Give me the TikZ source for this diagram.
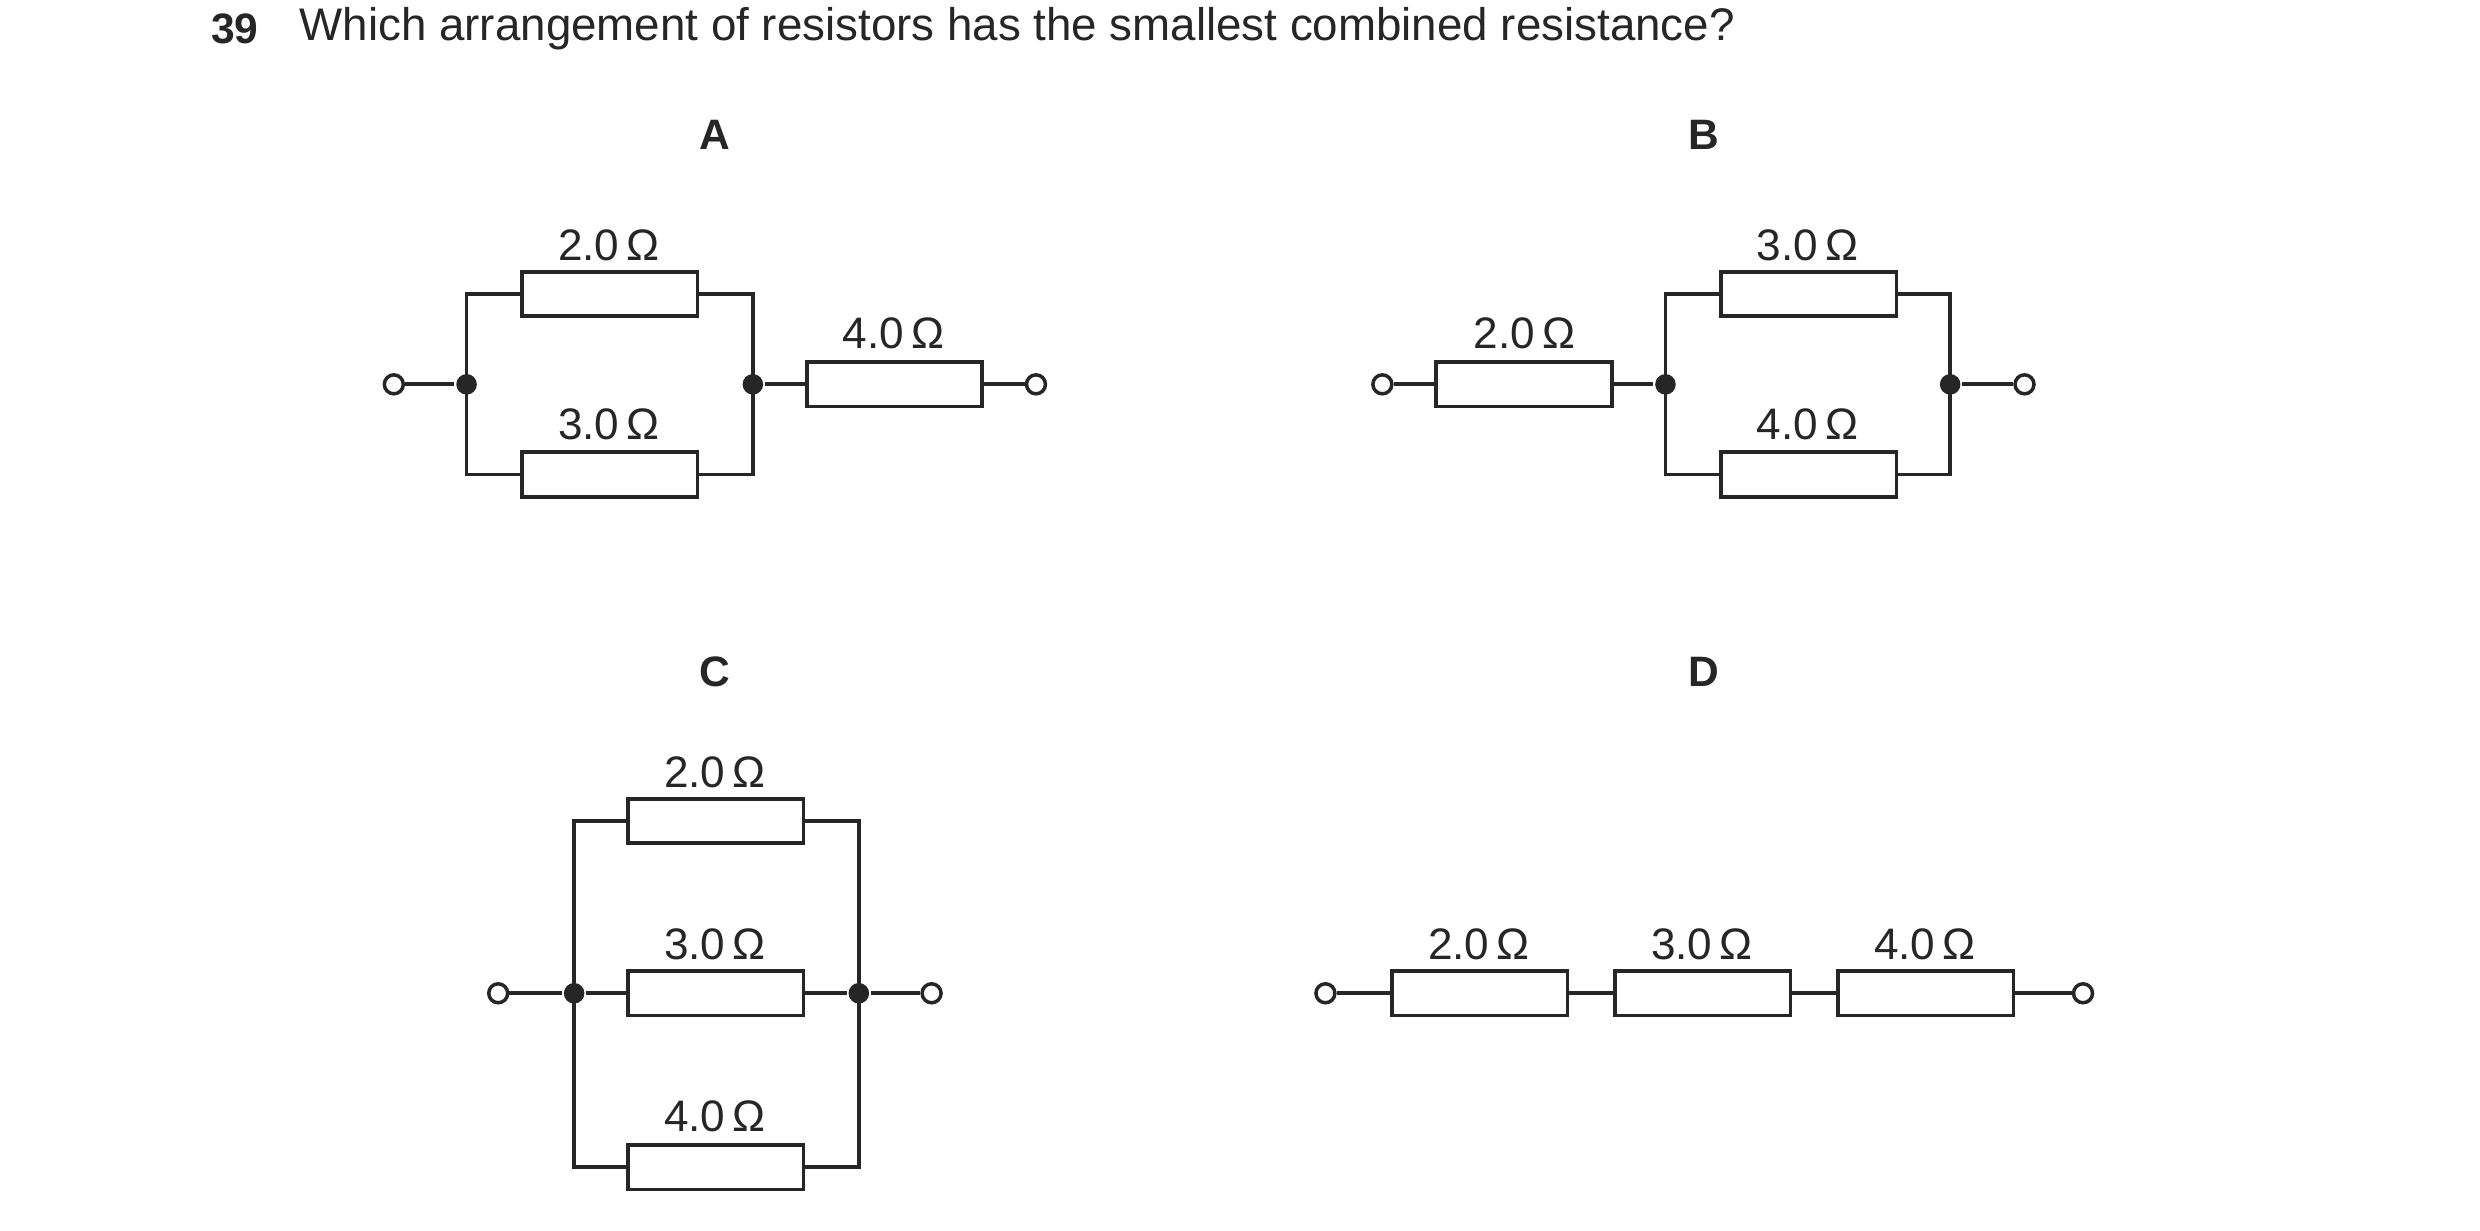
\documentclass[tikz,border=0pt]{standalone}
\usepackage{fontspec}
\setmainfont{Liberation Sans}
\begin{document}
\begin{tikzpicture}[x=1bp,y=-1bp,line width=2.4bp,
  res/.style={draw,rectangle,minimum width=111bp,minimum height=28bp,inner sep=0pt,line width=2.4bp},
  term/.style={draw,circle,fill=white,minimum size=12bp,inner sep=0pt,line width=2.2bp},
  dot/.style={circle,fill=black!85,minimum size=13bp,inner sep=0pt},
  lab/.style={font=\fontsize{28}{30}\selectfont,text=black!85},
  head/.style={font=\fontsize{27}{29}\selectfont\bfseries,text=black!85},
  color=black!85]
\useasboundingbox (0,0) rectangle (1568,778);
\node[head,anchor=west] (q) at (129,18) {39};
\node[font=\fontsize{29}{31}\selectfont,anchor=west,text=black!85] (qt) at (185,18) {Which arrangement of resistors has the smallest combined resistance?};
% A
\node[head] (hA) at (452,85) {A};
\node[term] (a1) at (249,243) {};
\node[dot] (aj1) at (295,243) {};
\node[dot] (aj2) at (476,243) {};
\node[res] (ar1) at (385.5,186) {};
\node[res] (ar2) at (385.5,300) {};
\node[res] (ar3) at (565.5,243) {};
\node[term] (a2) at (655,243) {};
\node[lab] (la1) at (385,155) {2.0\,Ω};
\node[lab] (la2) at (385,268) {3.0\,Ω};
\node[lab] (la3) at (565,211) {4.0\,Ω};
\draw (a1) -- (aj1);
\draw (ar1.west) -| (aj1.center) |- (ar2.west);
\draw (ar1.east) -| (aj2.center) |- (ar2.east);
\draw (aj2) -- (ar3.west); \draw (ar3.east) -- (a2);
% B
\node[head] (hB) at (1077,85) {B};
\node[term] (b1) at (874,243) {};
\node[res] (br1) at (963.5,243) {};
\node[dot] (bj1) at (1053,243) {};
\node[dot] (bj2) at (1233,243) {};
\node[res] (br2) at (1143.5,186) {};
\node[res] (br3) at (1143.5,300) {};
\node[term] (b2) at (1280,243) {};
\node[lab] (lb1) at (964,211) {2.0\,Ω};
\node[lab] (lb2) at (1143,155) {3.0\,Ω};
\node[lab] (lb3) at (1143,268) {4.0\,Ω};
\draw (b1) -- (br1.west); \draw (br1.east) -- (bj1);
\draw (br2.west) -| (bj1.center) |- (br3.west);
\draw (br2.east) -| (bj2.center) |- (br3.east);
\draw (bj2) -- (b2);
% C
\node[head] (hC) at (452,425) {C};
\node[term] (c1) at (315,628) {};
\node[dot] (cj1) at (363,628) {};
\node[dot] (cj2) at (543,628) {};
\node[term] (c2) at (589,628) {};
\node[res] (cr1) at (452.5,519) {};
\node[res] (cr2) at (452.5,628) {};
\node[res] (cr3) at (452.5,738) {};
\node[lab] (lc1) at (452,488) {2.0\,Ω};
\node[lab] (lc2) at (452,597) {3.0\,Ω};
\node[lab] (lc3) at (452,706) {4.0\,Ω};
\draw (c1) -- (cj1); \draw (cj2) -- (c2);
\draw (cr1.west) -| (cj1.center) |- (cr3.west);
\draw (cr1.east) -| (cj2.center) |- (cr3.east);
\draw (cj1) -- (cr2.west); \draw (cr2.east) -- (cj2);
% D
\node[head] (hD) at (1077,425) {D};
\node[term] (d1) at (838,628) {};
\node[res] (dr1) at (935.5,628) {};
\node[res] (dr2) at (1076.5,628) {};
\node[res] (dr3) at (1217.5,628) {};
\node[term] (d2) at (1317,628) {};
\node[lab] (ld1) at (935,597) {2.0\,Ω};
\node[lab] (ld2) at (1076,597) {3.0\,Ω};
\node[lab] (ld3) at (1217,597) {4.0\,Ω};
\draw (d1) -- (dr1.west); \draw (dr1.east) -- (dr2.west);
\draw (dr2.east) -- (dr3.west); \draw (dr3.east) -- (d2);
\end{tikzpicture}
\end{document}
